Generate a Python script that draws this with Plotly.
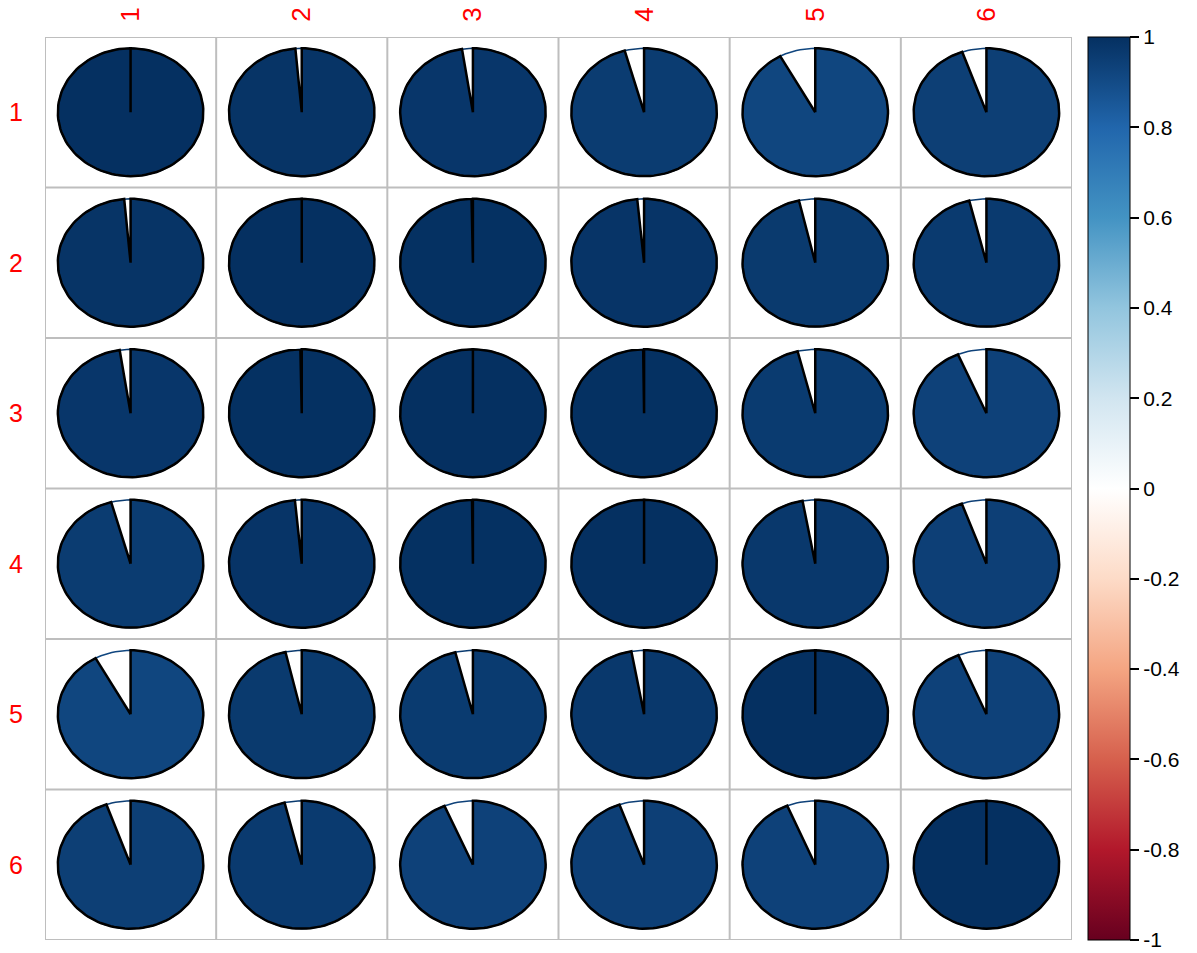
import numpy as np
import plotly.graph_objects as go

labels = ["1", "2", "3", "4", "5", "6"]
corr = [
    [1.000, 0.986, 0.976, 0.957, 0.920, 0.946],
    [0.986, 1.000, 0.997, 0.985, 0.964, 0.962],
    [0.976, 0.997, 1.000, 0.998, 0.961, 0.936],
    [0.957, 0.985, 0.998, 1.000, 0.972, 0.945],
    [0.920, 0.964, 0.961, 0.972, 1.000, 0.937],
    [0.946, 0.962, 0.936, 0.945, 0.937, 1.000],
]
cbar_vals = [1, 0.8, 0.6, 0.4, 0.2, 0, -0.2, -0.4, -0.6, -0.8, -1]
cbar_text = ["1", "0.8", "0.6", "0.4", "0.2", "0", "-0.2", "-0.4", "-0.6", "-0.8", "-1"]

palette = ["#67001F", "#B2182B", "#D6604D", "#F4A582", "#FDDBC7", "#FFFFFF",
           "#D1E5F0", "#92C5DE", "#4393C3", "#2166AC", "#053061"]
colorscale = [[i / (len(palette) - 1), c] for i, c in enumerate(palette)]


def hex2rgb(h):
    h = h.lstrip("#")
    return np.array([int(h[i:i + 2], 16) for i in (0, 2, 4)], dtype=float)


pal_rgb = [hex2rgb(c) for c in palette]


def color_for(v):
    p = (v + 1) / 2 * (len(palette) - 1)
    i = int(np.floor(p))
    if i >= len(palette) - 1:
        c = pal_rgb[-1]
    else:
        f = p - i
        c = pal_rgb[i] * (1 - f) + pal_rgb[i + 1] * f
    return "rgb(%d,%d,%d)" % tuple(np.round(c).astype(int))


n = len(labels)
R = 0.425
fig = go.Figure()

for i in range(n):
    for j in range(n):
        v = corr[i][j]
        cx, cy = j + 1, i + 1
        col = color_for(v)
        # full circle outline in the fill colour
        t = np.linspace(0, 2 * np.pi, 121)
        fig.add_trace(go.Scatter(
            x=cx + R * np.sin(t), y=cy - R * np.cos(t), mode="lines",
            line=dict(color=col, width=1.5), hoverinfo="skip", showlegend=False))
        # pie sector
        ts = np.linspace(0, 2 * np.pi * abs(v), 121)
        xs = np.concatenate([[cx], cx + R * np.sin(ts), [cx]])
        ys = np.concatenate([[cy], cy - R * np.cos(ts), [cy]])
        fig.add_trace(go.Scatter(
            x=xs, y=ys, mode="lines", fill="toself", fillcolor=col,
            line=dict(color="black", width=2.5), hoverinfo="skip", showlegend=False))

# colorbar carrier
fig.add_trace(go.Scatter(
    x=[1, 1], y=[1, 1], mode="markers",
    marker=dict(size=0.1, color=[-1, 1], cmin=-1, cmax=1, colorscale=colorscale,
                showscale=True,
                colorbar=dict(
                    thicknessmode="pixels", thickness=42,
                    lenmode="pixels", len=903,
                    x=1.0155, xanchor="left", xpad=0,
                    y=0.5, yanchor="middle", ypad=0,
                    outlinewidth=1, outlinecolor="black",
                    tickmode="array", tickvals=cbar_vals, ticktext=cbar_text,
                    ticks="outside", ticklen=9, tickwidth=1.5, tickcolor="black",
                    tickfont=dict(family="Liberation Sans, Arial", size=21, color="black"))),
    hoverinfo="skip", showlegend=False))

shapes = []
for k in range(n + 1):
    shapes.append(dict(type="line", xref="x", yref="y", x0=k + 0.5, x1=k + 0.5,
                       y0=0.5, y1=n + 0.5, line=dict(color="#BEBEBE", width=2), layer="below"))
    shapes.append(dict(type="line", xref="x", yref="y", y0=k + 0.5, y1=k + 0.5,
                       x0=0.5, x1=n + 0.5, line=dict(color="#BEBEBE", width=2), layer="below"))

fig.update_layout(
    width=1197, height=953,
    margin=dict(l=45, r=125, t=37, b=13, autoexpand=False),
    paper_bgcolor="white", plot_bgcolor="white",
    shapes=shapes,
    xaxis=dict(range=[0.5, n + 0.5], side="top", tickmode="array", automargin=False,
               tickvals=list(range(1, n + 1)), ticktext=labels, tickangle=-90,
               tickfont=dict(family="Liberation Sans, Arial", size=26, color="red"),
               showgrid=False, zeroline=False, showline=False,
               ticks="outside", ticklen=9, tickcolor="rgba(0,0,0,0)"),
    yaxis=dict(range=[n + 0.5, 0.5], tickmode="array", automargin=False,
               tickvals=list(range(1, n + 1)), ticktext=labels,
               tickfont=dict(family="Liberation Sans, Arial", size=25, color="red"),
               showgrid=False, zeroline=False, showline=False,
               ticks="outside", ticklen=16, tickcolor="rgba(0,0,0,0)"),
)

fig.write_html("out.html")
